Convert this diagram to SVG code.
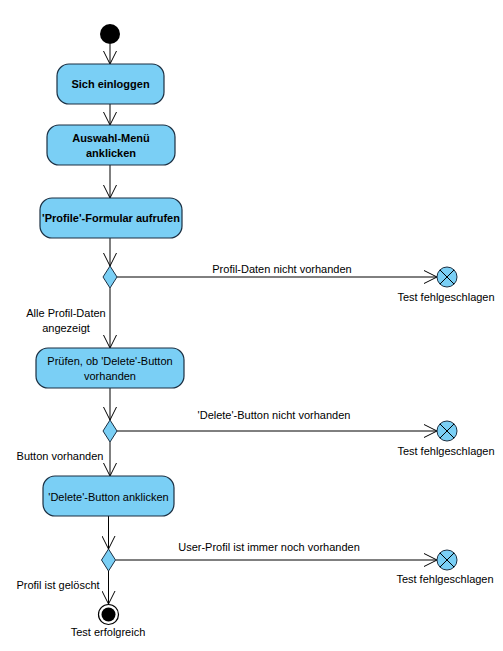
<svg xmlns="http://www.w3.org/2000/svg" width="503" height="651" viewBox="0 0 503 651">
<style>
.act{fill:#7ACFF5;stroke:#1B2F42;stroke-width:1.2}
.dec{fill:#7ACFF5;stroke:#1B2F42;stroke-width:1}
.t{font-family:"Liberation Sans",Arial,sans-serif;font-size:11px;fill:#000}
.b{font-weight:bold;text-anchor:middle}
.c{text-anchor:middle}
.e{text-anchor:end}
.ln{stroke:#000;stroke-width:1;fill:none}
</style>
<defs>
<marker id="arr" viewBox="0 0 14 14" refX="13" refY="7" markerWidth="14" markerHeight="14" markerUnits="userSpaceOnUse" orient="auto">
<path d="M0,0.5 L13,7 L0,13.5" fill="none" stroke="#000" stroke-width="1"/>
</marker>
</defs>
<rect width="503" height="651" fill="#fff"/>
<g id="connectors">
<line class="ln" x1="110" y1="44" x2="110" y2="64" marker-end="url(#arr)"/>
<line class="ln" x1="110" y1="104" x2="110" y2="125" marker-end="url(#arr)"/>
<line class="ln" x1="110" y1="165" x2="110" y2="198" marker-end="url(#arr)"/>
<line class="ln" x1="110" y1="238" x2="110" y2="266" marker-end="url(#arr)"/>
<line class="ln" x1="110" y1="288" x2="110" y2="348" marker-end="url(#arr)"/>
<line class="ln" x1="117" y1="277" x2="437" y2="277" marker-end="url(#arr)"/>
<line class="ln" x1="110" y1="388" x2="110" y2="420" marker-end="url(#arr)"/>
<line class="ln" x1="110" y1="442" x2="110" y2="476" marker-end="url(#arr)"/>
<line class="ln" x1="117" y1="431" x2="437" y2="431" marker-end="url(#arr)"/>
<line class="ln" x1="108.5" y1="516" x2="108.5" y2="549" marker-end="url(#arr)"/>
<line class="ln" x1="115.5" y1="560" x2="437" y2="560" marker-end="url(#arr)"/>
<line class="ln" x1="108.5" y1="571" x2="108.5" y2="604" marker-end="url(#arr)"/>
<text class="t c" x="282" y="273">Profil-Daten nicht vorhanden</text>
<text class="t c" x="66" y="317">Alle Profil-Daten</text>
<text class="t c" x="66" y="332">angezeigt</text>
<text class="t c" x="274" y="419">'Delete'-Button nicht vorhanden</text>
<text class="t c" x="60" y="460">Button vorhanden</text>
<text class="t c" x="269" y="551">User-Profil ist immer noch vorhanden</text>
<text class="t c" x="58" y="589">Profil ist gelöscht</text>
</g>
<g id="start"><circle cx="110" cy="34" r="10" fill="#000"/></g>
<g id="n1"><rect class="act" x="57" y="64" width="107" height="40" rx="12"/><text class="t b" x="110.5" y="88">Sich einloggen</text></g>
<g id="n2"><rect class="act" x="47" y="125" width="128" height="40" rx="12"/><text class="t b" x="111" y="142">Auswahl-Menü</text><text class="t b" x="111" y="157">anklicken</text></g>
<g id="n3"><rect class="act" x="40" y="198" width="142" height="40" rx="12"/><text class="t b" x="111" y="222">'Profile'-Formular aufrufen</text></g>
<g id="d1"><polygon class="dec" points="110,266 117,277 110,288 103,277"/></g>
<g id="f1"><circle class="dec" cx="447" cy="277" r="10"/><path class="ln" d="M439.9,269.9 L454.1,284.1 M454.1,269.9 L439.9,284.1"/><text class="t c" x="446" y="301">Test fehlgeschlagen</text></g>
<g id="n4"><rect class="act" x="36" y="348" width="148" height="40" rx="12"/><text class="t c" x="110" y="365">Prüfen, ob 'Delete'-Button</text><text class="t c" x="110" y="380">vorhanden</text></g>
<g id="d2"><polygon class="dec" points="110,420 117,431 110,442 103,431"/></g>
<g id="f2"><circle class="dec" cx="447" cy="431" r="10"/><path class="ln" d="M439.9,423.9 L454.1,438.1 M454.1,423.9 L439.9,438.1"/><text class="t c" x="446" y="455">Test fehlgeschlagen</text></g>
<g id="n5"><rect class="act" x="43" y="476" width="131" height="40" rx="12"/><text class="t c" x="108.5" y="501">'Delete'-Button anklicken</text></g>
<g id="d3"><polygon class="dec" points="108.5,549 115.5,560 108.5,571 101.5,560"/></g>
<g id="f3"><circle class="dec" cx="447" cy="560" r="10"/><path class="ln" d="M439.9,552.9 L454.1,567.1 M454.1,552.9 L439.9,567.1"/><text class="t c" x="445" y="583">Test fehlgeschlagen</text></g>
<g id="end"><circle cx="108.5" cy="614.5" r="10" fill="#fff" stroke="#000" stroke-width="1.2"/><circle cx="108.5" cy="614.5" r="7" fill="#000"/><text class="t c" x="108" y="636">Test erfolgreich</text></g>
</svg>
